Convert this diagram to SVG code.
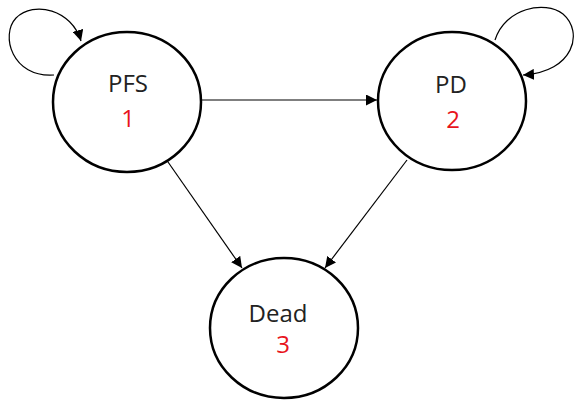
<svg xmlns="http://www.w3.org/2000/svg" width="578" height="407" viewBox="0 0 578 407">
<style>
.node{fill:#fff;stroke:#000;stroke-width:2.5}
.lbl{font-family:"Open Sans","Noto Sans",sans-serif;font-size:24px;fill:#222;text-anchor:middle}
.num{font-family:"Open Sans","Noto Sans",sans-serif;font-size:24px;fill:#e8141c;text-anchor:middle}
.edge{fill:none;stroke:#000;stroke-width:1.2;marker-end:url(#ah)}
</style>
<defs>
<marker id="ah" viewBox="0 0 10 10" refX="10" refY="5" markerWidth="11" markerHeight="11" markerUnits="userSpaceOnUse" orient="auto">
<path d="M0,0 L10,5 L0,10 z" fill="#000"/>
</marker>
</defs>
<rect width="578" height="407" fill="#fff"/>
<g id="connectors">
<path class="edge" d="M202,100 L377,100"/>
<path class="edge" d="M168,162 L242,268"/>
<path class="edge" d="M407,160 L325,268"/>
<path class="edge" d="M54,75 C12,78 0,35 16,18 C34,0 72,10 81,41"/>
<path class="edge" d="M495,40 C505,8 545,0 563,14 C584,32 574,72 523,75"/>
</g>
<g id="node1">
<ellipse class="node" cx="127" cy="102" rx="74" ry="70"/>
<text class="lbl" x="128" y="92">PFS</text>
<text class="num" x="128" y="127">1</text>
</g>
<g id="node2">
<ellipse class="node" cx="452" cy="101" rx="74" ry="69"/>
<text class="lbl" x="451" y="93">PD</text>
<text class="num" x="453" y="128">2</text>
</g>
<g id="node3">
<ellipse class="node" cx="284" cy="328" rx="74" ry="70"/>
<text class="lbl" x="278" y="322">Dead</text>
<text class="num" x="283" y="353">3</text>
</g>
</svg>
